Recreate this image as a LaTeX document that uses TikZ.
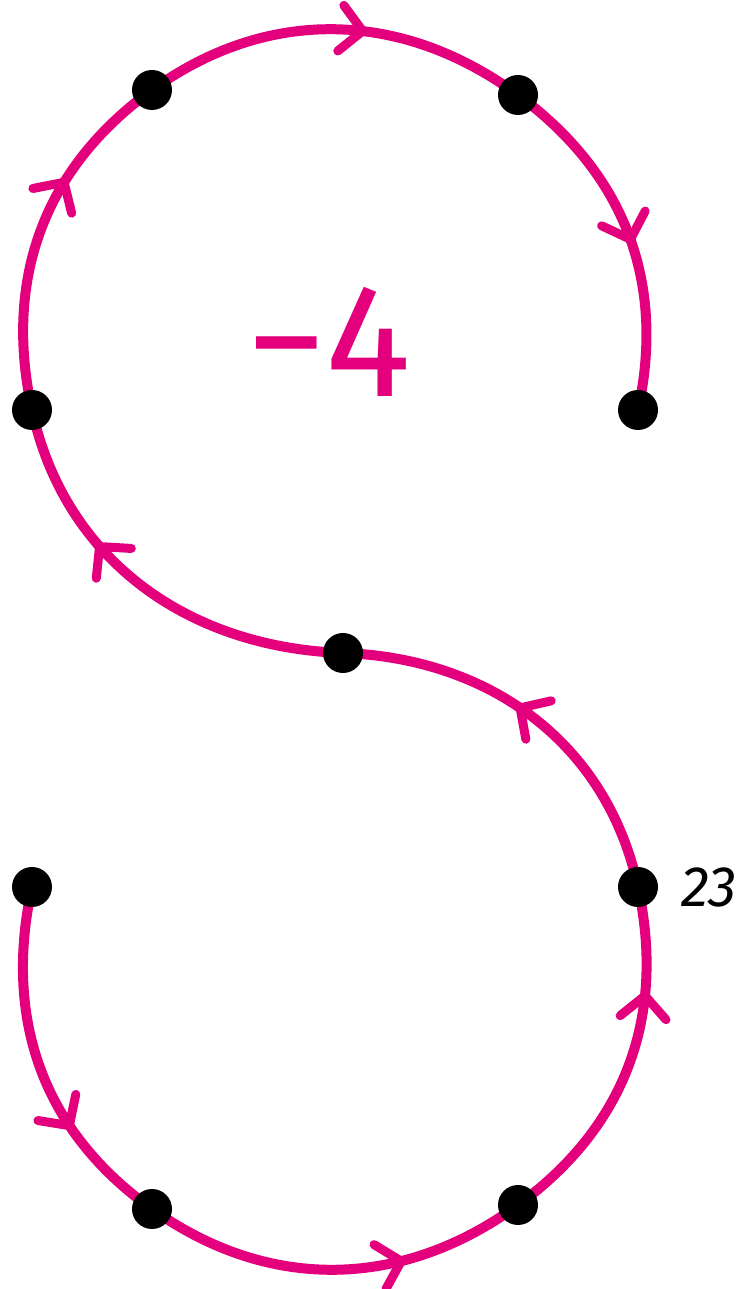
\documentclass[tikz,border=0pt]{standalone}
\usepackage{fontspec}
\setmainfont{Fira Sans}
\usetikzlibrary{arrows.meta,decorations.markings}
\definecolor{curvepink}{RGB}{228,0,124}
\tikzset{
  barbtip/.tip={Straight Barb[length=22pt,width=46pt,round]},
  curve/.style={draw=curvepink,line width=10pt,line cap=round},
  arrowat/.style={postaction={decorate},decoration={markings,mark=at position #1 with {\arrow[curvepink,line width=9pt]{barbtip}}}},
  dot/.style={circle,fill=black,minimum size=40pt,inner sep=0pt}
}
\begin{document}
\begin{tikzpicture}[x=1pt,y=1pt]
\useasboundingbox (0,0) rectangle (751,1289);
\coordinate (L1) at (32,879);
\coordinate (TL) at (152,1199);
\coordinate (TR) at (518,1194);
\coordinate (R1) at (638,879);
\coordinate (M) at (343,636);
\coordinate (L2) at (32,402);
\coordinate (BL) at (152,80);
\coordinate (BR) at (518,84);
\coordinate (R2) at (638,402);
% bottom loop
\draw[curve,arrowat=0.69] (L2) to[out=257.7,in=144.6] (BL);
\draw[curve,arrowat=0.68] (BL) to[out=324.6,in=216.1] (BR);
\draw[curve,arrowat=0.71] (BR) to[out=36.1,in=282.2] (R2);
\draw[curve,arrowat=0.55] (R2) to[out=102.2,in=358] (M);
% top loop
\draw[curve,arrowat=0.65] (M) to[out=178,in=282.3] (L1);
\draw[curve,arrowat=0.66] (L1) to[out=102.3,in=215.8] (TL);
\draw[curve,arrowat=0.58] (TL) to[out=35.8,in=143.7] (TR);
\draw[curve,arrowat=0.53] (TR) to[out=-36.3,in=77.7] (R1);
% dots
\foreach \p in {L1,TL,TR,R1,M,L2,BL,BR,R2} \node[dot] (d\p) at (\p) {};
% labels
\node[text=curvepink,font=\fontsize{161}{161}\selectfont,inner sep=0pt] (val) at (329,947) {−4};
\node[font=\itshape\fontsize{57}{57}\selectfont,inner sep=0pt,anchor=west] (num) at (681,402) {23};
\end{tikzpicture}
\end{document}
